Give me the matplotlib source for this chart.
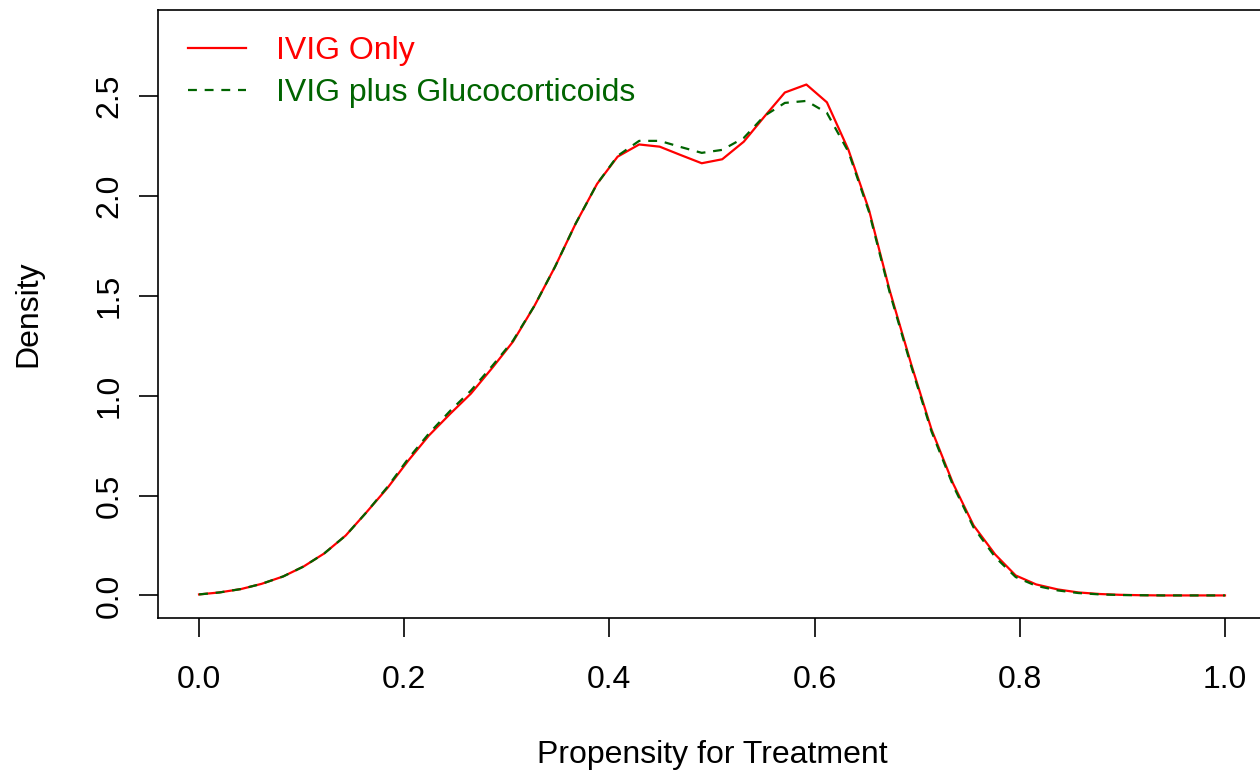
import matplotlib
matplotlib.use("Agg")
import matplotlib.pyplot as plt


# -----------------------------
# Data (density evaluated on 50 points, 0..1)
# -----------------------------
PROPENSITY = [
    0.000, 0.020, 0.041, 0.061, 0.082, 0.102, 0.122, 0.143, 0.163, 0.184,
    0.204, 0.224, 0.245, 0.265, 0.286, 0.306, 0.327, 0.347, 0.367, 0.388,
    0.408, 0.429, 0.449, 0.469, 0.490, 0.510, 0.531, 0.551, 0.571, 0.592,
    0.612, 0.633, 0.653, 0.673, 0.694, 0.714, 0.735, 0.755, 0.776, 0.796,
    0.816, 0.837, 0.857, 0.878, 0.898, 0.918, 0.939, 0.959, 0.980, 1.000,
]

IVIG_ONLY = [
    0.005, 0.015, 0.032, 0.058, 0.095, 0.145, 0.210, 0.300, 0.415, 0.540,
    0.675, 0.800, 0.910, 1.010, 1.140, 1.270, 1.450, 1.645, 1.860, 2.060,
    2.196, 2.257, 2.246, 2.205, 2.163, 2.183, 2.271, 2.396, 2.517, 2.557,
    2.468, 2.230, 1.930, 1.530, 1.160, 0.830, 0.560, 0.350, 0.205, 0.100,
    0.055, 0.030, 0.015, 0.007, 0.003, 0.001, 0.000, 0.000, 0.000, 0.000,
]

IVIG_STEROIDS = [
    0.005, 0.015, 0.032, 0.058, 0.095, 0.145, 0.210, 0.300, 0.415, 0.545,
    0.685, 0.810, 0.925, 1.025, 1.150, 1.275, 1.450, 1.645, 1.860, 2.060,
    2.200, 2.275, 2.275, 2.245, 2.215, 2.230, 2.290, 2.400, 2.465, 2.475,
    2.415, 2.220, 1.920, 1.520, 1.150, 0.820, 0.550, 0.340, 0.192, 0.092,
    0.048, 0.025, 0.012, 0.005, 0.002, 0.001, 0.000, 0.000, 0.000, 0.000,
]

X_TICKS = [0.0, 0.2, 0.4, 0.6, 0.8, 1.0]
Y_TICKS = [0.0, 0.5, 1.0, 1.5, 2.0, 2.5]

RED = "#ff0000"
GREEN = "#006400"


plt.rcParams["font.family"] = ["Liberation Sans", "DejaVu Sans"]
FS = 23

fig = plt.figure(figsize=(12.6, 7.75), dpi=100)
# axes box runs past the right edge of the picture (cropped R plot)
ax = fig.add_axes([158 / 1260, 157 / 775, 1108 / 1260, 608 / 775])

ax.plot(PROPENSITY, IVIG_ONLY, color=RED, lw=1.6, label="IVIG Only")
ax.plot(PROPENSITY, IVIG_STEROIDS, color=GREEN, lw=1.6,
        dashes=(4, 3.5), label="IVIG plus Glucocorticoids")

ax.set_xlim(-0.04, 1.04)
ax.set_ylim(-0.113, 2.93)

ax.set_xticks(X_TICKS)
ax.set_xticklabels([f"{t:.1f}" for t in X_TICKS])
ax.set_yticks(Y_TICKS)
ax.set_yticklabels([f"{t:.1f}" for t in Y_TICKS], va="center")

for side in ["left", "right", "top", "bottom"]:
    ax.spines[side].set_linewidth(1.2)
    ax.spines[side].set_color("black")

ax.tick_params(axis="x", length=14, width=1.2, pad=20, labelsize=FS)
ax.tick_params(axis="y", length=14, width=1.2, pad=10, labelsize=FS,
               labelrotation=90)

ax.set_xlabel("Propensity for Treatment", fontsize=FS)
ax.set_ylabel("Density", fontsize=FS)
ax.xaxis.set_label_coords(0.5, (618 - 755) / 608)
ax.xaxis.label.set_verticalalignment("center")
ax.yaxis.set_label_coords((28 - 158) / 1108, 0.5)
ax.yaxis.label.set_verticalalignment("center")

leg = ax.legend(loc="upper left", bbox_to_anchor=(30 / 1108, (618 - 36) / 608),
                frameon=False, fontsize=FS, handlelength=1.8,
                handletextpad=0.95, labelspacing=0.38, borderpad=0,
                borderaxespad=0, labelcolor="linecolor")

fig.savefig("out.png", dpi=100)
plt.close(fig)
